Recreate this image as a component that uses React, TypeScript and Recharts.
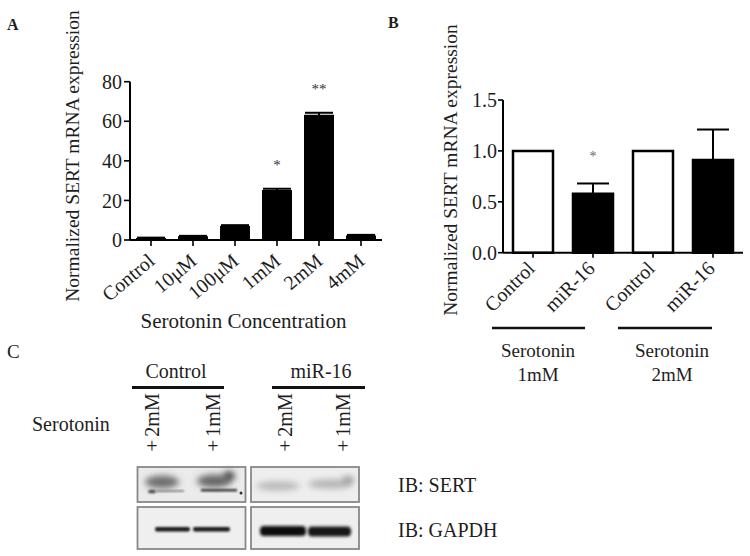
import React from 'react';
import { BarChart, Bar, XAxis, YAxis, ErrorBar, Cell, LabelList } from 'recharts';

const FONT = '"Liberation Serif", "Times New Roman", serif';
const INK = '#1e1e1e';

// Panel A: serotonin concentration series
const concLabels = ['Control', '10μM', '100μM', '1mM', '2mM', '4mM'];
const concValues = [1.0, 1.9, 7.1, 25.3, 63.3, 2.3];
const concErrors = [0.2, 0.2, 0.4, 0.6, 1.0, 0.3];
const concSig = ['', '', '', '*', '**', ''];
const concTicks = [0, 20, 40, 60, 80];

// Panel B: miR-16 series
const mirLabels = ['Control', 'miR-16', 'Control', 'miR-16'];
const mirValues = [1.0, 0.58, 1.0, 0.91];
const mirErrors = [0, 0.1, 0, 0.3];
const mirSig = ['', '*', '', ''];
const mirFills = ['#ffffff', '#000000', '#ffffff', '#000000'];
const mirTicks = [0, 0.5, 1.0, 1.5];

const dataA = concLabels.map((name, i) => ({ name, value: concValues[i], err: concErrors[i], sig: concSig[i] }));
const dataB = mirLabels.map((name, i) => ({ name, value: mirValues[i], err: mirErrors[i], sig: mirSig[i], fill: mirFills[i] }));

const makeTick = (dx: number, dy: number, angle: number) => (props: any) => {
  const { x, y, payload } = props;
  const ax = x + dx;
  const ay = y + dy;
  return (
    <text x={ax} y={ay} textAnchor="end" transform={`rotate(${angle}, ${ax}, ${ay})`}
      fontFamily={FONT} fontSize={20} fill={INK}>
      {payload.value}
    </text>
  );
};

const makeStar = (data: any[], offset: number, size: number, color: string) => (props: any) => {
  const { x, y, width, height, index } = props;
  const d = data[index];
  if (!d || !d.sig) return null;
  const ppu = height / d.value;
  const yTop = y - d.err * ppu;
  return (
    <text x={x + width / 2} y={yTop - offset} textAnchor="middle" fontFamily={FONT} fontSize={size} fill={color}>
      {d.sig}
    </text>
  );
};

const axisLine = { stroke: '#000', strokeWidth: 2 };
const tickLine = { stroke: '#000', strokeWidth: 1.6 };
const yTick = { fontSize: 20, fill: INK, fontFamily: FONT };

function Blot() {
  return (
    <g>
      <defs>
        <filter id="b1" x="-50%" y="-50%" width="200%" height="200%"><feGaussianBlur stdDeviation="0.9" /></filter>
        <filter id="b2" x="-50%" y="-80%" width="200%" height="260%"><feGaussianBlur stdDeviation="3" /></filter>
        <filter id="b3" x="-50%" y="-50%" width="200%" height="200%"><feGaussianBlur stdDeviation="1.4" /></filter>
      </defs>
      {/* SERT */}
      <rect x={137.5} y={467} width={108} height={35} fill="#ebebeb" stroke="#888" strokeWidth={1.8} />
      <rect x={251} y={467} width={108} height={35} fill="#eeeeee" stroke="#888" strokeWidth={1.8} />
      <ellipse cx={162} cy={482} rx={17} ry={6.5} fill="#6e6e6e" filter="url(#b2)" />
      <ellipse cx={214} cy={481} rx={17} ry={6.5} fill="#686868" filter="url(#b2)" />
      <ellipse cx={229} cy={476} rx={6} ry={5} fill="#4a4a4a" filter="url(#b2)" />
      <ellipse cx={152} cy={491.5} rx={4} ry={1.8} fill="#444" filter="url(#b1)" />
      <rect x={156} y={490} width={28} height={2} fill="#8a8a8a" filter="url(#b1)" />
      <rect x={201} y={489} width={36} height={2.4} fill="#333" filter="url(#b1)" />
      <circle cx={241} cy={493} r={1.5} fill="#333" />
      <ellipse cx={278} cy={486} rx={22} ry={4.5} fill="#b8b8b8" filter="url(#b2)" />
      <ellipse cx={330} cy={484} rx={22} ry={4.5} fill="#b2b2b2" filter="url(#b2)" />
      <ellipse cx={348} cy={480} rx={6} ry={4} fill="#999" filter="url(#b2)" />
      {/* GAPDH */}
      <rect x={137.5} y={507} width={108} height={42} fill="#efefef" stroke="#888" strokeWidth={1.8} />
      <rect x={251} y={507} width={108} height={42} fill="#efefef" stroke="#888" strokeWidth={1.8} />
      <rect x={155} y={527} width={35} height={4.5} rx={2} fill="#1a1a1a" filter="url(#b1)" />
      <rect x={193} y={527} width={37} height={4.5} rx={2} fill="#1a1a1a" filter="url(#b1)" />
      <rect x={260} y={526} width={46} height={10} rx={4} fill="#111" filter="url(#b3)" />
      <rect x={308} y={526.5} width={43} height={10} rx={4} fill="#151515" filter="url(#b3)" />
    </g>
  );
}

function Overlay() {
  const t = { fontFamily: FONT, fill: INK } as const;
  return (
    <svg width={750} height={556} style={{ position: 'absolute', left: 0, top: 0, pointerEvents: 'none' }}>
      <text x={7} y={30} fontSize={16} fontWeight="bold" {...t}>A</text>
      <text x={388} y={28} fontSize={16} fontWeight="bold" {...t}>B</text>
      <text x={7} y={358} fontSize={19} {...t}>C</text>

      <text transform="translate(79,156) rotate(-90)" textAnchor="middle" fontSize={19.5} {...t}>Normalized SERT mRNA expression</text>
      <text transform="translate(457,170) rotate(-90)" textAnchor="middle" fontSize={19.5} {...t}>Normalized SERT mRNA expression</text>
      <text x={243.5} y={328} textAnchor="middle" fontSize={21} {...t}>Serotonin Concentration</text>

      {/* Panel B grouping */}
      <line x1={492} x2={585} y1={328} y2={328} stroke="#111" strokeWidth={2.5} />
      <line x1={618} x2={712} y1={328} y2={328} stroke="#111" strokeWidth={2.5} />
      <text x={538} y={357} textAnchor="middle" fontSize={19} {...t}>Serotonin</text>
      <text x={538} y={381} textAnchor="middle" fontSize={19} {...t}>1mM</text>
      <text x={672} y={357} textAnchor="middle" fontSize={19} {...t}>Serotonin</text>
      <text x={672} y={381} textAnchor="middle" fontSize={19} {...t}>2mM</text>

      {/* Panel C */}
      <text x={176} y={378} textAnchor="middle" fontSize={20} {...t}>Control</text>
      <text x={321} y={378} textAnchor="middle" fontSize={20} {...t}>miR-16</text>
      <line x1={132} x2={224} y1={387.5} y2={387.5} stroke="#111" strokeWidth={2.8} />
      <line x1={272} x2={365} y1={387.5} y2={387.5} stroke="#111" strokeWidth={2.8} />
      <text x={32} y={431} fontSize={20} {...t}>Serotonin</text>
      {[{ x: 152, l: '2mM' }, { x: 213, l: '1mM' }, { x: 285, l: '2mM' }, { x: 343, l: '1mM' }].map((c, i) => (
        <g key={i}>
          <text transform={`translate(${c.x + 6.5},415) rotate(-90)`} textAnchor="middle" fontSize={20} {...t}>{c.l}</text>
          <text x={c.x} y={453} textAnchor="middle" fontSize={20} {...t}>+</text>
        </g>
      ))}
      <Blot />
      <text x={398} y={492} fontSize={20} {...t}>IB: SERT</text>
      <text x={398} y={537} fontSize={20} {...t}>IB: GAPDH</text>
    </svg>
  );
}

export default function App() {
  return (
    <div style={{ position: 'absolute', left: 0, top: 0, width: 750, height: 556, background: '#fff', overflow: 'hidden' }}>
      <div style={{ position: 'absolute', left: 0, top: 0 }}>
        <BarChart width={400} height={340} data={dataA} margin={{ top: 81.7, right: 18, bottom: 70, left: 70 }}>
          <XAxis dataKey="name" interval={0} tick={makeTick(5, 15, -40)} tickSize={6} tickMargin={2}
            axisLine={axisLine} tickLine={tickLine} />
          <YAxis domain={[0, 80]} ticks={concTicks} interval={0} tickSize={6} tickMargin={2}
            tick={yTick} axisLine={axisLine} tickLine={tickLine} />
          <Bar dataKey="value" fill="#000" barSize={30} isAnimationActive={false}>
            <ErrorBar dataKey="err" width={14} stroke="#000" strokeWidth={2} direction="y" isAnimationActive={false} />
            <LabelList dataKey="sig" content={makeStar(dataA, 19, 15, '#333')} />
          </Bar>
        </BarChart>
      </div>
      <div style={{ position: 'absolute', left: 380, top: 0 }}>
        <BarChart width={370} height={340} data={dataB} margin={{ top: 100, right: 7, bottom: 57.3, left: 63 }}>
          <XAxis dataKey="name" interval={0} tick={makeTick(3, 10, -45)} tickSize={5} tickMargin={2}
            axisLine={axisLine} tickLine={tickLine} />
          <YAxis domain={[0, 1.5]} ticks={mirTicks} interval={0} tickSize={5} tickMargin={1}
            tickFormatter={(v: number) => v.toFixed(1)} tick={yTick} axisLine={axisLine} tickLine={tickLine} />
          <Bar dataKey="value" barSize={40} stroke="#000" strokeWidth={2.5} isAnimationActive={false}>
            {dataB.map((d, i) => <Cell key={i} fill={d.fill} />)}
            <ErrorBar dataKey="err" width={16} stroke="#000" strokeWidth={2} direction="y" isAnimationActive={false} />
            <LabelList dataKey="sig" content={makeStar(dataB, 22, 14, '#666')} />
          </Bar>
        </BarChart>
      </div>
      <Overlay />
    </div>
  );
}
